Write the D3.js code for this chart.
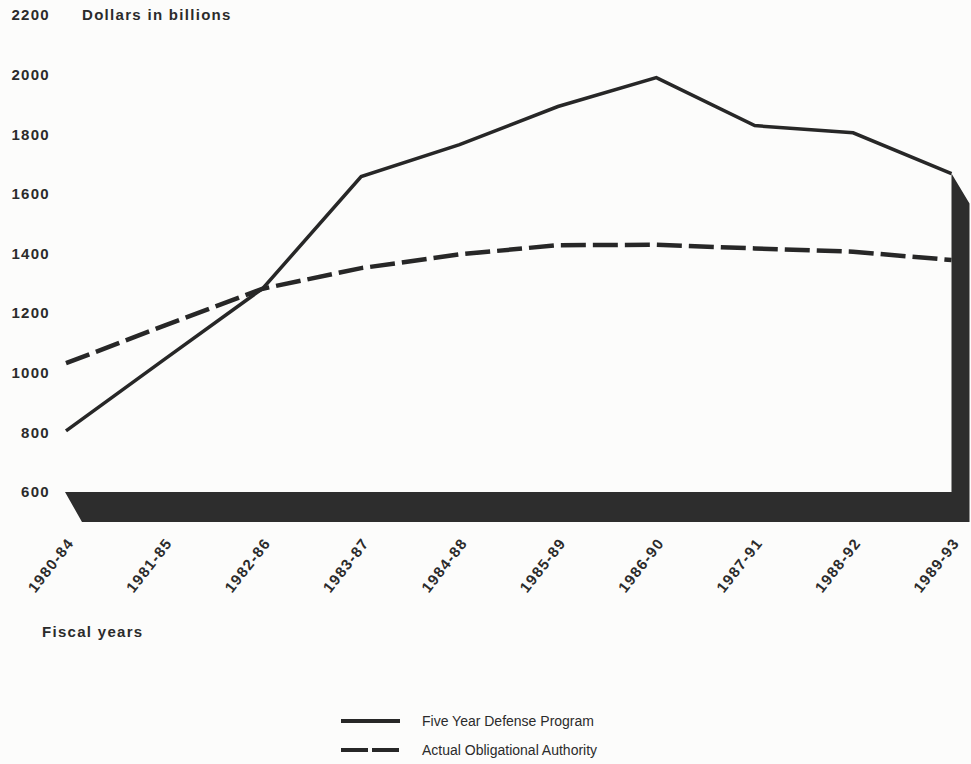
<!DOCTYPE html>
<html>
<head>
<meta charset="utf-8">
<script src="https://cdn.jsdelivr.net/npm/d3@7"></script>
<style>
  body { margin: 0; background: #fcfcfb; }
  svg { display: block; }
  .lbl { font-family: "Liberation Sans", Arial, sans-serif; font-weight: bold; font-size: 15px; letter-spacing: 1.3px; fill: #2b2b2b; }
  .leg { font-family: "Liberation Sans", Arial, sans-serif; font-size: 14px; fill: #2b2b2b; }
</style>
</head>
<body>
<script>
// fiscal year periods
var years = ["1980-84", "1981-85", "1982-86", "1983-87", "1984-88",
             "1985-89", "1986-90", "1987-91", "1988-92", "1989-93"];
// Five Year Defense Program (dollars in billions)
var fydp = [805, 1045, 1283, 1658, 1765, 1893, 1990, 1829, 1805, 1668];
// Actual Obligational Authority
var aoa = [1032, 1158, 1282, 1351, 1397, 1428, 1429, 1417, 1406, 1378];
var yTicks = [600, 800, 1000, 1200, 1400, 1600, 1800, 2000, 2200];

window.onload = function(){
    var w = 971, h = 764;
    var svg = d3.select("body").append("svg")
      .attr("width", w)
      .attr("height", h);

    var x = d3.scalePoint().domain(years).range([66, 951.5]);
    var y = d3.scaleLinear().domain([600, 2200]).range([492, 15]);

    // the dark 3d "floor" and right wall
    var dx = 18, dy = 30;
    var x0 = x(years[0]), x1 = x(years[years.length - 1]);
    var yb = y(600), yTop = y(fydp[fydp.length - 1]);
    var base = [
      [x0 - 1, yb], [x1, yb], [x1, yTop], [x1 + dx, yTop + dy],
      [x1 + dx, yb + dy], [x0 + 16, yb + dy]
    ];
    svg.append("polygon")
      .attr("points", base.map(function(p){ return p.join(","); }).join(" "))
      .attr("fill", "#2d2d2d");

    // y axis labels only
    var yAxis = d3.axisLeft(y).tickValues(yTicks).tickFormat(d3.format("d"))
      .tickSize(0).tickPadding(0);
    var gy = svg.append("g")
      .attr("transform", "translate(50,0)")
      .call(yAxis);
    gy.select(".domain").remove();
    gy.selectAll("text").attr("class", "lbl").attr("font-family", null).attr("font-size", null);

    svg.append("text").attr("class", "lbl")
      .attr("x", 82).attr("y", y(2200)).attr("dy", "0.35em")
      .text("Dollars in billions");

    // x labels, rotated
    var xAxis = d3.axisBottom(x).tickSize(0).tickPadding(0);
    var gx = svg.append("g")
      .attr("transform", "translate(0,538)")
      .call(xAxis);
    gx.select(".domain").remove();
    gx.selectAll("text")
      .attr("class", "lbl")
      .attr("font-family", null).attr("font-size", null)
      .attr("text-anchor", "end")
      .attr("y", 0).attr("dy", "0.35em").attr("x", 0)
      .attr("transform", "translate(4,2) rotate(-52)");

    svg.append("text").attr("class", "lbl")
      .attr("x", 42).attr("y", 632).attr("dy", "0.35em")
      .text("Fiscal years");

    var line = d3.line()
      .x(function(d, i){ return x(years[i]); })
      .y(function(d){ return y(d); });

    svg.append("path")
      .datum(aoa)
      .attr("d", line)
      .attr("fill", "none")
      .attr("stroke", "#272727")
      .attr("stroke-width", 4.5)
      .attr("stroke-dasharray", "25,7");

    svg.append("path")
      .datum(fydp)
      .attr("d", line)
      .attr("fill", "none")
      .attr("stroke", "#272727")
      .attr("stroke-width", 3.5)
      .attr("stroke-linejoin", "miter");

    // legend
    var legend = [
      {name: "Five Year Defense Program", dash: null, y: 721},
      {name: "Actual Obligational Authority", dash: "27,4", y: 750}
    ];
    var lg = svg.selectAll(".lg").data(legend).enter().append("g");
    lg.append("line")
      .attr("x1", 341).attr("x2", 400)
      .attr("y1", function(d){ return d.y; }).attr("y2", function(d){ return d.y; })
      .attr("stroke", "#272727")
      .attr("stroke-width", 4)
      .attr("stroke-dasharray", function(d){ return d.dash; });
    lg.append("text").attr("class", "leg")
      .attr("x", 422).attr("y", function(d){ return d.y; }).attr("dy", "0.35em")
      .text(function(d){ return d.name; });
};
</script>
</body>
</html>
